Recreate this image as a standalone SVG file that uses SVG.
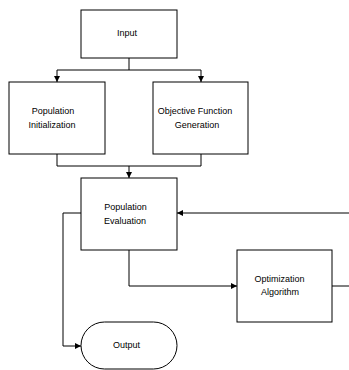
<svg xmlns="http://www.w3.org/2000/svg" width="349" height="370" viewBox="0 0 349 370">
<style>
.box{fill:#fff;stroke:#000;stroke-width:1}
.ln{fill:none;stroke:#000;stroke-width:1}
text{font-family:"Liberation Sans",Arial,sans-serif;font-size:9px;fill:#000;text-anchor:middle}
</style>
<defs>
<marker id="ah" viewBox="0 0 10 10" refX="10" refY="5" markerWidth="6" markerHeight="6" markerUnits="userSpaceOnUse" orient="auto">
<path d="M0,0 L10,5 L0,10 Z" fill="#000"/>
</marker>
</defs>
<rect width="349" height="370" fill="#fff"/>
<g id="connectors">
<path class="ln" d="M129,58 V70"/>
<path class="ln" d="M129,70 H57 V82" marker-end="url(#ah)"/>
<path class="ln" d="M129,70 H201 V82" marker-end="url(#ah)"/>
<path class="ln" d="M57,154 V166 H201 V154"/>
<path class="ln" d="M129,166 V178" marker-end="url(#ah)"/>
<path class="ln" d="M81,213 H63 V346 H81" marker-end="url(#ah)"/>
<path class="ln" d="M129,250 V286 H237" marker-end="url(#ah)"/>
<path class="ln" d="M332,286 H349"/>
<path class="ln" d="M349,213 H177" marker-end="url(#ah)"/>
</g>
<g id="input">
<rect class="box" x="81" y="10" width="96" height="48"/>
<text x="127" y="36">Input</text>
</g>
<g id="pop-init">
<rect class="box" x="9" y="82" width="96" height="72"/>
<text x="53" y="114">Population</text>
<text x="52" y="128">Initialization</text>
</g>
<g id="obj-func">
<rect class="box" x="153" y="82" width="95" height="72"/>
<text x="195" y="114">Objective Function</text>
<text x="197" y="128">Generation</text>
</g>
<g id="pop-eval">
<rect class="box" x="81" y="178" width="96" height="72"/>
<text x="125.5" y="210">Population</text>
<text x="125" y="224">Evaluation</text>
</g>
<g id="opt-algo">
<rect class="box" x="237" y="250" width="95" height="72"/>
<text x="279.5" y="282">Optimization</text>
<text x="280" y="295">Algorithm</text>
</g>
<g id="output">
<rect class="box" x="81" y="322" width="96" height="47" rx="23.5" ry="23.5"/>
<text x="126.5" y="348">Output</text>
</g>
</svg>
